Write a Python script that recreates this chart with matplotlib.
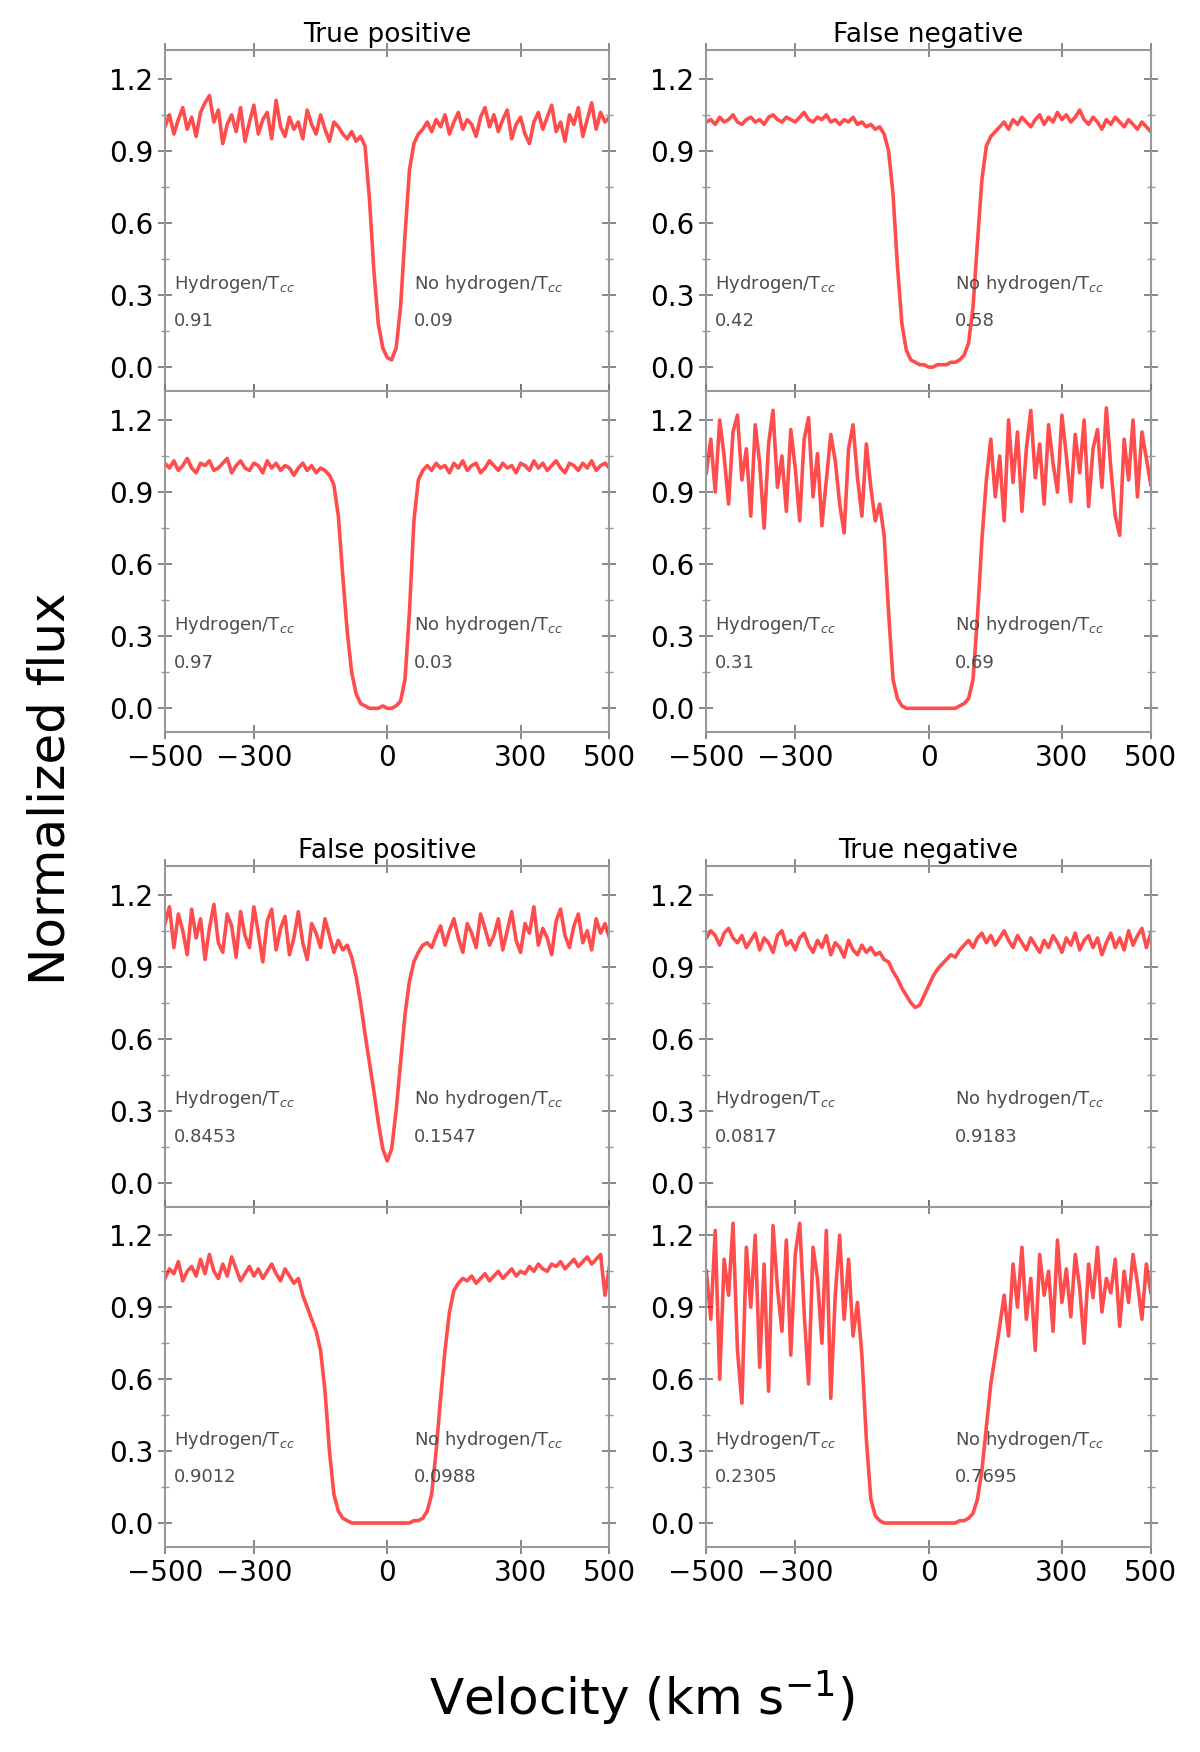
import numpy as np
import matplotlib.pyplot as plt
from matplotlib.ticker import MultipleLocator

# velocity grid, 10 km/s steps
velocity = np.arange(-500, 501, 10)

# True positive (top left)
flux_tp_a = [
    1.00, 1.05, 0.97, 1.03, 1.08, 0.99, 1.04, 0.96, 1.06, 1.10,
    1.13, 1.02, 1.07, 0.93, 1.01, 1.05, 0.98, 1.08, 0.94, 1.02,
    1.09, 0.97, 1.03, 1.06, 0.95, 1.11, 1.00, 0.96, 1.04, 0.99,
    1.02, 0.95, 1.07, 1.01, 0.97, 1.05, 0.99, 0.94, 1.02, 1.00,
    0.97, 0.95, 0.98, 0.94, 0.96,
    0.92, 0.70, 0.40, 0.18, 0.08, 0.04, 0.03, 0.08, 0.25, 0.55,
    0.82, 0.93, 0.97, 0.99, 1.02, 0.98, 1.03, 1.00, 1.05, 0.97,
    1.02, 1.06, 0.99, 1.03, 1.01, 0.96, 1.04, 1.08, 1.00, 1.05,
    0.98, 1.03, 1.07, 0.95, 1.01, 1.04, 0.97, 0.93, 1.02, 1.06,
    0.99, 1.04, 1.09, 0.98, 1.02, 0.94, 1.05, 1.01, 1.08, 0.96,
    1.03, 1.10, 0.99, 1.06, 1.02, 1.04,
]
flux_tp_b = [
    1.02, 1.00, 1.03, 0.99, 1.01, 1.04, 1.00, 0.98, 1.02, 1.01,
    1.03, 0.99, 1.00, 1.02, 1.04, 0.98, 1.01, 1.03, 1.00, 0.99,
    1.02, 1.01, 0.98, 1.03, 1.00, 1.02, 0.99, 1.01, 1.00, 0.97,
    1.00, 1.02, 0.99, 1.01, 0.98, 1.00, 0.99,
    0.97, 0.93, 0.80, 0.55, 0.32, 0.15, 0.06, 0.02, 0.01, 0.00,
    0.00, 0.00, 0.01, 0.00, 0.00, 0.01, 0.03, 0.12, 0.40, 0.78,
    0.95, 0.99, 1.01, 0.99, 1.02, 1.00, 1.01, 0.98, 1.02, 1.00,
    1.03, 0.99, 1.01, 1.02, 0.98, 1.00, 1.03, 1.01, 0.99, 1.02,
    1.00, 1.01, 0.98, 1.02, 1.01, 0.99, 1.03, 1.00, 1.02, 0.99,
    1.01, 1.03, 1.00, 0.98, 1.02, 1.01, 0.99, 1.02, 1.00, 1.03,
    0.99, 1.01, 1.02, 1.00,
]

# False negative (top right)
flux_fn_a = [
    1.02, 1.03, 1.01, 1.04, 1.02, 1.03, 1.05, 1.02, 1.01, 1.03,
    1.04, 1.02, 1.03, 1.01, 1.04, 1.05, 1.03, 1.02, 1.04, 1.03,
    1.02, 1.04, 1.06, 1.03, 1.02, 1.04, 1.03, 1.05, 1.02, 1.03,
    1.01, 1.03, 1.02, 1.04, 1.01, 1.02, 1.00, 1.01, 0.99, 1.00,
    0.97, 0.90, 0.72, 0.42, 0.18, 0.07, 0.03, 0.02, 0.01, 0.01,
    0.00, 0.00, 0.01, 0.01, 0.01, 0.02, 0.02, 0.03, 0.05, 0.10,
    0.25, 0.52, 0.78, 0.92, 0.96, 0.98, 1.00, 1.02, 0.99, 1.03,
    1.01, 1.04, 1.02, 1.00, 1.03, 1.05, 1.01, 1.04, 1.02, 1.06,
    1.03, 1.05, 1.02, 1.04, 1.07, 1.03, 1.01, 1.04, 1.02, 0.99,
    1.03, 1.01, 1.04, 1.02, 1.00, 1.03, 1.01, 0.99, 1.02, 1.00,
    0.98,
]
flux_fn_b = [
    0.98, 1.12, 0.90, 1.20, 1.05, 0.85, 1.15, 1.22, 0.95, 1.08,
    0.80, 1.18, 1.02, 0.75, 1.10, 1.24, 0.92, 1.05, 0.82, 1.16,
    1.00, 0.78, 1.12, 1.21, 0.88, 1.06, 0.76, 0.95, 1.14, 1.03,
    0.85, 0.73, 1.08, 1.18, 0.96, 0.80, 1.10, 0.92, 0.78, 0.85,
    0.72, 0.40, 0.12, 0.04, 0.01, 0.00, 0.00, 0.00, 0.00, 0.00,
    0.00, 0.00, 0.00, 0.00, 0.00, 0.00, 0.00, 0.01, 0.02, 0.04,
    0.12, 0.38, 0.70, 0.95, 1.12, 0.88, 1.05, 0.78, 1.20, 0.94,
    1.15, 0.82, 1.08, 1.24, 0.96, 1.10, 0.85, 1.18, 1.02, 0.90,
    1.22, 1.05, 0.86, 1.14, 0.98, 1.20, 0.84, 1.08, 1.16, 0.92,
    1.25, 1.00, 0.80, 0.72, 1.12, 0.95, 1.20, 0.88, 1.15, 1.04,
    0.93,
]

# False positive (bottom left)
flux_fp_a = [
    1.08, 1.15, 0.98, 1.12, 1.05, 0.95, 1.14, 1.02, 1.10, 0.93,
    1.06, 1.16, 1.00, 0.96, 1.12, 1.07, 0.94, 1.13, 1.03, 0.98,
    1.15, 1.04, 0.92, 1.09, 1.14, 0.97, 1.06, 1.11, 0.95, 1.02,
    1.13, 1.00, 0.93, 1.08, 1.04, 0.98, 1.10, 1.03, 0.96, 1.01,
    0.97, 0.99,
    0.94, 0.86, 0.75, 0.62, 0.50, 0.38, 0.25, 0.14, 0.09, 0.14,
    0.30, 0.50, 0.70, 0.84, 0.92, 0.96, 0.99, 1.00, 0.98, 1.03,
    1.07, 0.99, 1.05, 1.10, 1.02, 0.96, 1.08, 1.04, 0.98, 1.12,
    1.06, 0.99, 1.03, 1.10, 0.97, 1.05, 1.13, 1.01, 0.96, 1.08,
    1.04, 1.15, 0.99, 1.06, 1.02, 0.95, 1.09, 1.14, 1.03, 0.98,
    1.07, 1.12, 1.00, 1.05, 0.97, 1.10, 1.04, 1.08, 1.02,
]
flux_fp_b = [
    1.02, 1.06, 1.04, 1.09, 1.01, 1.05, 1.07, 1.03, 1.10, 1.04,
    1.12, 1.05, 1.02, 1.08, 1.03, 1.11, 1.06, 1.01, 1.04, 1.07,
    1.03, 1.06, 1.02, 1.05, 1.08, 1.04, 1.01, 1.06, 1.03, 1.00,
    1.02,
    0.95, 0.90, 0.85, 0.80, 0.72, 0.55, 0.30, 0.12, 0.05, 0.02,
    0.01, 0.00, 0.00, 0.00, 0.00, 0.00, 0.00, 0.00, 0.00, 0.00,
    0.00, 0.00, 0.00, 0.00, 0.00, 0.01, 0.01, 0.02, 0.05, 0.12,
    0.30, 0.52, 0.72, 0.88, 0.97, 1.00, 1.02, 1.01, 1.03, 1.00,
    1.02, 1.04, 1.01, 1.03, 1.05, 1.02, 1.04, 1.06, 1.03, 1.05,
    1.04, 1.07, 1.05, 1.08, 1.06, 1.05, 1.08, 1.07, 1.09, 1.06,
    1.08, 1.10, 1.07, 1.09, 1.11, 1.08, 1.10, 1.12, 0.95, 1.07,
]

# True negative (bottom right)
flux_tn_a = [
    1.02, 1.05, 1.03, 0.99, 1.04, 1.06, 1.02, 1.00, 1.03, 0.98,
    1.01, 1.04, 0.97, 1.02, 1.00, 0.96, 1.03, 1.05, 0.99, 1.01,
    0.97, 1.02, 1.04, 0.99, 0.96, 1.01, 0.98, 1.03, 0.95, 1.00,
    0.98, 0.94, 1.01, 0.97, 0.95, 0.99, 0.96, 0.98,
    0.95, 0.96, 0.93, 0.92, 0.88, 0.85, 0.81, 0.78, 0.75, 0.73,
    0.74, 0.78, 0.82, 0.86, 0.89, 0.91, 0.93, 0.95, 0.94, 0.97,
    0.99, 1.01, 0.98, 1.02, 1.04, 1.00, 1.03, 0.99, 1.02, 1.05,
    1.01, 0.98, 1.03, 1.00, 0.97, 1.02, 0.99, 0.96, 1.01, 0.98,
    1.03, 1.00, 0.96, 1.02, 0.99, 1.04, 0.97, 1.01, 1.03, 0.98,
    1.02, 0.95, 1.00, 1.04, 0.98, 1.02, 0.97, 1.05, 0.99, 1.03,
    1.06, 0.98, 1.04,
]
flux_tn_b = [
    1.05, 0.85, 1.22, 0.60, 1.10, 0.95, 1.25, 0.72, 0.50, 1.15,
    0.90, 1.20, 0.65, 1.08, 0.55, 1.24, 0.98, 0.80, 1.18, 0.70,
    1.12, 1.25, 0.88, 0.58, 1.15, 1.02, 0.75, 1.22, 0.52, 0.95,
    1.20, 0.85, 1.10, 0.78, 0.92,
    0.70, 0.35, 0.10, 0.03, 0.01, 0.00, 0.00, 0.00, 0.00, 0.00,
    0.00, 0.00, 0.00, 0.00, 0.00, 0.00, 0.00, 0.00, 0.00, 0.00,
    0.00, 0.00, 0.01, 0.01, 0.02, 0.04, 0.10, 0.22, 0.40, 0.58,
    0.70, 0.82, 0.95, 0.78, 1.08, 0.90, 1.15, 0.85, 1.02, 0.72,
    1.12, 0.95, 1.05, 0.80, 1.18, 0.92, 1.06, 0.86, 1.12, 0.98,
    0.75, 1.08, 0.94, 1.15, 0.88, 1.02, 0.96, 1.10, 0.82, 1.05,
    0.92, 1.12, 1.00, 0.85, 1.08, 0.96,
]

titles = ["True positive", "False negative", "False positive", "True negative"]
label_left = "Hydrogen/T$_{cc}$"
label_right = "No hydrogen/T$_{cc}$"
# classifier scores printed in each panel (left, right)
scores = [
    [("0.91", "0.09"), ("0.97", "0.03")],
    [("0.42", "0.58"), ("0.31", "0.69")],
    [("0.8453", "0.1547"), ("0.9012", "0.0988")],
    [("0.0817", "0.9183"), ("0.2305", "0.7695")],
]
spectra = [
    [flux_tp_a, flux_tp_b],
    [flux_fn_a, flux_fn_b],
    [flux_fp_a, flux_fp_b],
    [flux_tn_a, flux_tn_b],
]

fig = plt.figure(figsize=(12, 17.52), dpi=100)
gs_top = fig.add_gridspec(2, 2, left=0.1375, right=0.959, top=0.9715, bottom=0.582,
                          hspace=0, wspace=0.218)
gs_bot = fig.add_gridspec(2, 2, left=0.1375, right=0.959, top=0.5057, bottom=0.117,
                          hspace=0, wspace=0.218)

for k in range(4):
    gs = gs_top if k < 2 else gs_bot
    col = k % 2
    for row in range(2):
        ax = fig.add_subplot(gs[row, col])
        ax.plot(velocity, spectra[k][row], color='red', lw=2.6, alpha=0.7)
        ax.set_xlim(-500, 500)
        ax.set_ylim(-0.1, 1.32)
        ax.set_xticks([-500, -300, 0, 300, 500])
        ax.yaxis.set_major_locator(MultipleLocator(0.3))
        ax.yaxis.set_minor_locator(MultipleLocator(0.15))
        ax.tick_params(axis='both', which='major', direction='inout', length=10,
                       width=1.2, color='0.45', labelsize=20, top=True, right=True)
        ax.tick_params(axis='both', which='minor', direction='inout', length=6,
                       width=1, color='0.6', right=True)
        ax.yaxis.set_major_formatter(plt.FuncFormatter(lambda y, p: f"{y:.1f}"))
        for sp in ax.spines.values():
            sp.set_color('0.6')
            sp.set_linewidth(1.5)
        if row == 0:
            ax.set_title(titles[k], fontsize=19, pad=6)
            ax.tick_params(labelbottom=False)
        s_left, s_right = scores[k][row]
        ax.text(0.02, 0.30, label_left, transform=ax.transAxes, fontsize=13, color='0.3')
        ax.text(0.02, 0.19, s_left, transform=ax.transAxes, fontsize=13, color='0.3')
        ax.text(0.56, 0.30, label_right, transform=ax.transAxes, fontsize=13, color='0.3')
        ax.text(0.56, 0.19, s_right, transform=ax.transAxes, fontsize=13, color='0.3')

fig.text(0.042, 0.55, "Normalized flux", rotation=90, fontsize=36,
         ha='center', va='center')
fig.text(0.535, 0.031, "Velocity (km s$^{-1}$)", fontsize=36,
         ha='center', va='center')

fig.savefig("out.png", dpi=100)
